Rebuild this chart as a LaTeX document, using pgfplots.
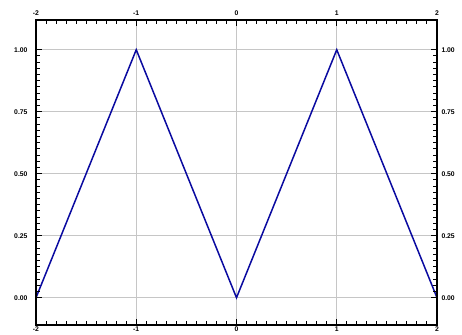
\documentclass[border=0pt]{standalone}
\usepackage{fontspec}
\setmainfont{Liberation Sans}
\usepackage{pgfplots}
\pgfplotsset{compat=1.18}
\usetikzlibrary{calc}
\begin{document}
\begin{tikzpicture}
\pgfplotsset{
  base/.style={
    scale only axis, width=401pt, height=305pt,
    xmin=-2, xmax=2, ymin=-0.11, ymax=1.12,
    xtick={-2,-1,0,1,2}, ytick={0,0.25,0.5,0.75,1},
    minor x tick num=9, minor y tick num=9,
    tick align=inside,
    major tick length=6pt, minor tick length=4pt,
    every tick/.style={black, line width=1pt},
    axis line style={black, line width=1.4pt},
    tick label style={font=\fontsize{6.8}{6.8}\selectfont\bfseries},
    /pgf/number format/assume math mode=true,
    yticklabel style={/pgf/number format/fixed, /pgf/number format/fixed zerofill, /pgf/number format/precision=2},
    xticklabel style={/pgf/number format/fixed},
  }
}
\begin{axis}[base,
  xticklabel pos=lower, yticklabel pos=left,
  xtick pos=both, ytick pos=both,
  grid=major, major grid style={gray!45, line width=1.1pt},
  xticklabel style={yshift=2pt},
  yticklabel style={xshift=-5pt},
]
\addplot[color={rgb,255:red,10;green,10;blue,160}, line width=1.5pt] coordinates {
(-2,0) (-1,1) (0,0) (1,1) (2,0)
};
\end{axis}
\begin{axis}[base,
  xticklabel pos=upper, yticklabel pos=right,
  xtick pos=both, ytick pos=both,
  xticklabel style={yshift=1pt},
  yticklabel style={xshift=1pt},
]
\end{axis}
\pgfresetboundingbox
\path ($(current axis.south west)+(-36pt,-9pt)$) rectangle ($(current axis.north east)+(25pt,20pt)$);
\end{tikzpicture}
\end{document}
